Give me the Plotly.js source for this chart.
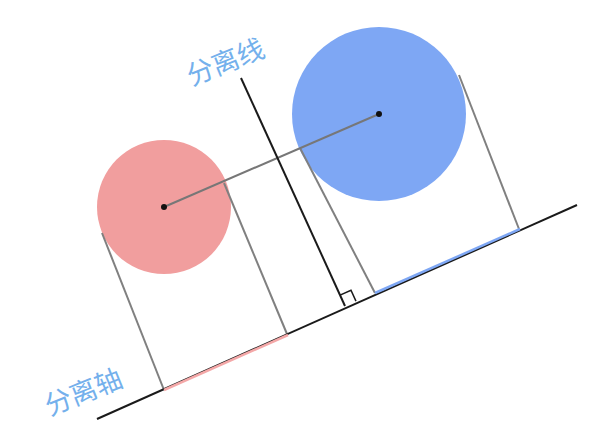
<!DOCTYPE html>
<html><head><meta charset="utf-8">
<script src="https://cdn.plot.ly/plotly-3.0.1.min.js"></script>
<style>body{margin:0}#main{width:612px;height:445px}</style>
</head><body><div id="main"></div>
<script>
// pixel-like coordinates, y grows downward
const circleNames = ['red', 'blue']
const circleCenterX = [164, 379]
const circleCenterY = [207, 114]
const circleRadius = [67, 87]
const circleColors = ['#f19e9e', '#7ea7f4']

const axisX = [97, 577]
const axisY = [419, 205]
const sepX = [241, 345]
const sepY = [78, 306]

const projX = [[102, 164], [224, 287], [300, 375], [459, 519]]
const projY = [[233, 390], [183, 334], [148, 293], [75, 229]]

const segX = [[164, 288], [375, 520]]
const segY = [[390, 335], [293, 229]]
const segColors = ['#f4a8a8', '#7ea7f4']

const labels = ['分离线', '分离轴']
const labelX = [224, 82]
const labelY = [60, 390]

const plotData = []
const shapes = []

circleNames.forEach((n, i) => {
  const r = circleRadius[i]
  shapes.push({type: 'circle', xref: 'x', yref: 'y', layer: 'below',
    x0: circleCenterX[i] - r, x1: circleCenterX[i] + r,
    y0: circleCenterY[i] - r, y1: circleCenterY[i] + r,
    fillcolor: circleColors[i], line: {width: 0}})
})

projX.forEach((px, i) => {
  plotData.push({x: px, y: projY[i], mode: 'lines', line: {color: '#808080', width: 2}})
})
plotData.push({x: circleCenterX, y: circleCenterY, mode: 'lines', line: {color: '#777', width: 2}})
plotData.push({x: axisX, y: axisY, mode: 'lines', line: {color: '#1a1a1a', width: 2}})
plotData.push({x: sepX, y: sepY, mode: 'lines', line: {color: '#1a1a1a', width: 2}})
segX.forEach((sx, i) => {
  plotData.push({x: sx, y: segY[i], mode: 'lines', line: {color: segColors[i], width: 2.5}})
})
plotData.push({x: circleCenterX, y: circleCenterY, mode: 'markers', marker: {color: '#111', size: 6}})

// right angle mark at foot of separation line
const fx = sepX[1], fy = sepY[1]
const ax = axisX[1] - axisX[0], ay = axisY[1] - axisY[0]
const al = Math.hypot(ax, ay)
const ux = ax / al * 12, uy = ay / al * 12
const vx = -(sepX[1] - sepX[0]) / Math.hypot(sepX[1] - sepX[0], sepY[1] - sepY[0]) * 12
const vy = -(sepY[1] - sepY[0]) / Math.hypot(sepX[1] - sepX[0], sepY[1] - sepY[0]) * 12
plotData.push({x: [fx + ux, fx + ux + vx, fx + vx], y: [fy + uy, fy + uy + vy, fy + vy],
  mode: 'lines', line: {color: '#1a1a1a', width: 1.5}})

const annotations = labels.map((t, i) => ({x: labelX[i], y: labelY[i], xref: 'x', yref: 'y',
  text: t, showarrow: false, textangle: -22,
  font: {family: 'Noto Sans CJK SC', size: 27, color: '#74b0ec'}}))

Plotly.newPlot('main', plotData, {
  width: 612, height: 445, margin: {l: 0, r: 0, t: 0, b: 0},
  showlegend: false, paper_bgcolor: '#fff', plot_bgcolor: '#fff',
  xaxis: {range: [0, 612], visible: false, fixedrange: true},
  yaxis: {range: [445, 0], visible: false, fixedrange: true},
  shapes: shapes, annotations: annotations
}, {staticPlot: true})
</script></body></html>
